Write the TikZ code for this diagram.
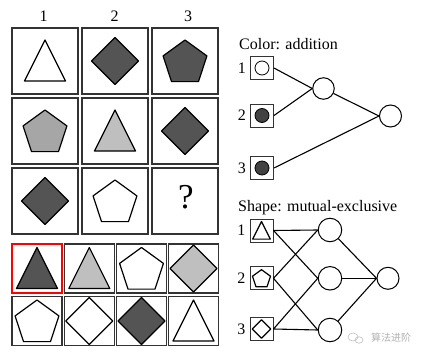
\documentclass[tikz,border=0pt]{standalone}
\usepackage{fontspec}
\setmainfont{Liberation Serif}
\newfontfamily\cjkfont{Noto Sans CJK SC}
\usetikzlibrary{positioning}
\definecolor{darkfill}{gray}{0.33}
\definecolor{midfill}{gray}{0.65}
\definecolor{lightfill}{gray}{0.75}
\definecolor{dotfill}{gray}{0.26}
\tikzset{
  fig/.style={draw=black,line width=1.2pt,line join=round},
  tri/.pic={\path[fig,pic actions] (0,-21) -- (20.5,20) -- (-20.5,20) -- cycle;},
  pent/.pic={\path[fig,pic actions] (0,-21) -- (21.9,-5.1) -- (13.5,20.6) -- (-13.5,20.6) -- (-21.9,-5.1) -- cycle;},
  diam/.pic={\path[fig,pic actions] (0,-23.5) -- (23.5,0) -- (0,23.5) -- (-23.5,0) -- cycle;}
}
\begin{document}
\begin{tikzpicture}[x=1pt,y=-1pt,
  cell/.style={draw=black!80,line width=1.3pt,minimum size=66pt,inner sep=0pt},
  ans/.style={draw=black!80,line width=1.3pt,minimum width=50pt,minimum height=49pt,inner sep=0pt},
  inbox/.style={draw=black!80,line width=1pt,minimum size=23pt,inner sep=0pt},
  unit/.style={draw,circle,line width=1pt,inner sep=0pt},
  dot/.style={draw,circle,line width=0.8pt,minimum size=14pt,inner sep=0pt},
  lbl/.style={font=\fontsize{16}{16}\selectfont,inner sep=0pt},
  ttl/.style={font=\fontsize{16}{16}\selectfont,inner sep=0pt,anchor=base west},
  edge/.style={line width=1.1pt}]
  \useasboundingbox[fill=white] (0,0) rectangle (424,359);

  % column numbers
  \node[lbl,anchor=base] (n1) at (43.5,21) {1};
  \node[lbl,anchor=base] (n2) at (114.5,21) {2};
  \node[lbl,anchor=base] (n3) at (188,21) {3};

  % 3x3 matrix
  \node[cell] (g11) at (45,61) {};
  \node[cell] (g12) at (115,61) {};
  \node[cell] (g13) at (185,61) {};
  \node[cell] (g21) at (45,131) {};
  \node[cell] (g22) at (115,131) {};
  \node[cell] (g23) at (185,131) {};
  \node[cell] (g31) at (45,201) {};
  \node[cell] (g32) at (115,201) {};
  \node[cell] (g33) at (185,201) {};
  \pic[fill=white] at (g11) {tri};
  \pic[fill=darkfill] at (g12) {diam};
  \pic[fill=darkfill] at (g13) {pent};
  \pic[fill=midfill] at (g21) {pent};
  \pic[fill=lightfill] at (g22) {tri};
  \pic[fill=darkfill] at (g23) {diam};
  \pic[fill=darkfill] at (g31) {diam};
  \pic[fill=white] at (g32) {pent};
  \node[font=\fontsize{35}{35}\selectfont,inner sep=0pt,anchor=base] (q) at (186,208.5) {?};

  % candidate answers
  \node[ans,draw=red] (a1) at (37,268.5) {};
  \node[ans] (a2) at (89.3,268.5) {};
  \node[ans] (a3) at (141.5,268.5) {};
  \node[ans] (a4) at (193.5,268.5) {};
  \node[ans] (a5) at (37,321) {};
  \node[ans] (a6) at (89.3,321) {};
  \node[ans] (a7) at (141.5,321) {};
  \node[ans] (a8) at (193.5,321) {};
  \pic[fill=darkfill] at (a1) {tri};
  \pic[fill=lightfill] at (a2) {tri};
  \pic[fill=white] at (a3) {pent};
  \pic[fill=lightfill] at (a4) {diam};
  \pic[fill=white] at (a5) {pent};
  \pic[fill=white] at (a6) {diam};
  \pic[fill=darkfill] at (a7) {diam};
  \pic[fill=white] at (a8) {tri};

  % color network
  \node[ttl] (ctitle) at (239,49.5) {Color: addition};
  \node[inbox] (c1) at (262,68) {};
  \node[inbox] (c2) at (262,115.5) {};
  \node[inbox] (c3) at (262,168) {};
  \node[dot,fill=white] (d1) at (c1) {};
  \node[dot,fill=dotfill] (d2) at (c2) {};
  \node[dot,fill=dotfill] (d3) at (c3) {};
  \node[lbl,left=4pt of c1] (cl1) {1};
  \node[lbl,left=4pt of c2] (cl2) {2};
  \node[lbl,left=4pt of c3] (cl3) {3};
  \node[unit,minimum size=21.5pt] (ch) at (323.5,88.5) {};
  \node[unit,minimum size=22pt] (co) at (390.5,116) {};
  \draw[edge] (c1.east) -- (ch.west);
  \draw[edge] (c2.east) -- (ch.west);
  \draw[edge] (ch) -- (co.west);
  \draw[edge] (c3.east) -- (co.west);

  % shape network
  \node[ttl] (stitle) at (238,211) {Shape: mutual-exclusive};
  \node[inbox] (s1) at (261.5,230.5) {};
  \node[inbox] (s2) at (261.5,278.3) {};
  \node[inbox] (s3) at (261.5,329) {};
  \pic[fill=white,scale=0.43] at (s1) {tri};
  \pic[fill=white,scale=0.41] at (s2) {pent};
  \pic[fill=white,scale=0.39] at (s3) {diam};
  \node[lbl,left=4pt of s1] (sl1) {1};
  \node[lbl,left=4pt of s2] (sl2) {2};
  \node[lbl,left=4pt of s3] (sl3) {3};
  \node[unit,minimum size=23.5pt] (sh1) at (330,230) {};
  \node[unit,minimum size=23.5pt] (sh2) at (330,278.3) {};
  \node[unit,minimum size=23.5pt] (sh3) at (330,330) {};
  \node[unit,minimum size=22pt] (so) at (388,278.3) {};
  \draw[edge] (s1.east) -- (sh1.west);
  \draw[edge] (s1.east) -- (sh2.west);
  \draw[edge] (s2.east) -- (sh1.west);
  \draw[edge] (s2.east) -- (sh3.west);
  \draw[edge] (s3.east) -- (sh2.west);
  \draw[edge] (s3.east) -- (sh3.west);
  \draw[edge] (sh1) -- (so.west);
  \draw[edge] (sh2) -- (so.west);
  \draw[edge] (sh3) -- (so.west);

  % watermark
  \draw[black!25,line width=0.6pt] (353,337) ellipse (5pt and 4pt);
  \draw[black!25,line width=0.6pt] (359,340) ellipse (4pt and 3.2pt);
  \node[font=\cjkfont\fontsize{10}{10}\selectfont,text=black!30,inner sep=0pt] (wm) at (391,338) {算法进阶};
\end{tikzpicture}
\end{document}
